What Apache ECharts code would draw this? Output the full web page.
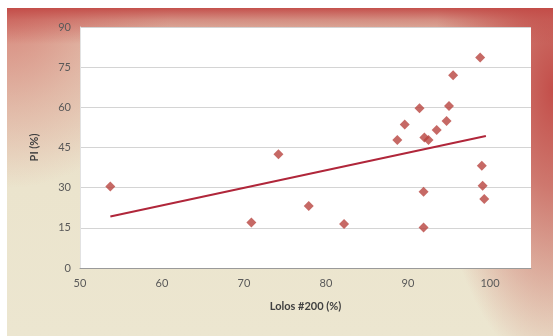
<!DOCTYPE html>
<html>
<head>
<meta charset="utf-8">
<script src="https://cdn.jsdelivr.net/npm/echarts@6/dist/echarts.min.js"></script>
<style>
  html, body { margin: 0; padding: 0; background: #ffffff; }
  #frame {
    position: absolute; left: 7px; top: 8px; width: 546px; height: 328px;
    background:
      linear-gradient(to bottom, rgba(194,74,70,0.95) 0px, rgba(194,74,70,0.5) 12px, rgba(194,74,70,0) 36px),
      radial-gradient(ellipse 22% 85% at 100% 25%, rgba(194,74,70,0.97) 0%, rgba(194,74,70,0.7) 35%, rgba(194,74,70,0) 100%),
      radial-gradient(ellipse 30% 55% at 0% 0%, rgba(212,120,110,0.85) 0%, rgba(212,120,110,0.35) 55%, rgba(212,120,110,0) 100%),
      linear-gradient(to bottom, #e6d2bd 0%, #ebe4cd 55%, #ece6d0 100%);
  }
  #chart { width: 546px; height: 328px; }
</style>
</head>
<body>
<div id="frame"><div id="chart"></div></div>
<script>
// Lolos #200 (%) against PI (%) for each sample
const passing200 = [53.7, 70.9, 74.2, 77.9, 82.2, 88.7, 89.6, 91.4, 91.9, 91.9, 92.0, 92.5, 93.5, 94.7, 95.0, 95.5, 98.8, 99.0, 99.1, 99.3];
const plasticity = [30.4, 17.0, 42.5, 23.2, 16.4, 47.8, 53.6, 59.7, 28.5, 15.1, 48.7, 47.8, 51.5, 54.9, 60.5, 72.0, 78.6, 38.2, 30.7, 25.8];

// linear trend line end points
const trendX = [53.7, 99.5];
const trendY = [19.2, 49.3];

const xTicks = [50, 60, 70, 80, 90, 100];
const yTicks = [0, 15, 30, 45, 60, 75, 90];

const points = passing200.map((x, i) => [x, plasticity[i]]);
const trend = trendX.map((x, i) => [x, trendY[i]]);

const chart = echarts.init(document.getElementById('chart'), null, { renderer: 'canvas' });
chart.setOption({
  animation: false,
  backgroundColor: 'transparent',
  textStyle: { fontFamily: 'Lato, "Liberation Sans", sans-serif' },
  grid: {
    left: 73, top: 19, right: 22, bottom: 68,
    show: true, backgroundColor: '#ffffff', borderWidth: 0
  },
  xAxis: {
    type: 'value',
    min: 50, max: 105, interval: 10,
    name: 'Lolos #200 (%)',
    nameLocation: 'middle', nameGap: 33,
    nameTextStyle: { fontSize: 11, fontWeight: 'bold', color: '#404040' },
    axisLine: { show: true, lineStyle: { color: '#9a9a9a', width: 1 } },
    axisTick: { show: false },
    splitLine: { show: false },
    axisLabel: {
      fontSize: 11, color: '#595959', margin: 10,
      formatter: v => (xTicks.indexOf(v) >= 0 ? String(v) : '')
    }
  },
  yAxis: {
    type: 'value',
    min: 0, max: 90, interval: 15,
    name: 'PI (%)',
    nameLocation: 'middle', nameGap: 40, nameRotate: 90,
    nameTextStyle: { fontSize: 11, fontWeight: 'bold', color: '#404040' },
    axisLine: { show: true, lineStyle: { color: '#e2e2e2', width: 1 } },
    axisTick: { show: false },
    splitLine: { show: true, lineStyle: { color: '#d4d4d4', width: 1 } },
    axisLabel: {
      fontSize: 11, color: '#595959', margin: 9,
      formatter: v => (yTicks.indexOf(v) >= 0 ? String(v) : '')
    }
  },
  series: [
    {
      type: 'line',
      data: trend,
      showSymbol: false,
      symbol: 'none',
      lineStyle: { color: '#b0263a', width: 2 },
      z: 2
    },
    {
      type: 'scatter',
      data: points,
      symbol: 'diamond',
      symbolSize: 10,
      itemStyle: { color: '#b8433f' },
      z: 3
    }
  ]
});
</script>
</body>
</html>
